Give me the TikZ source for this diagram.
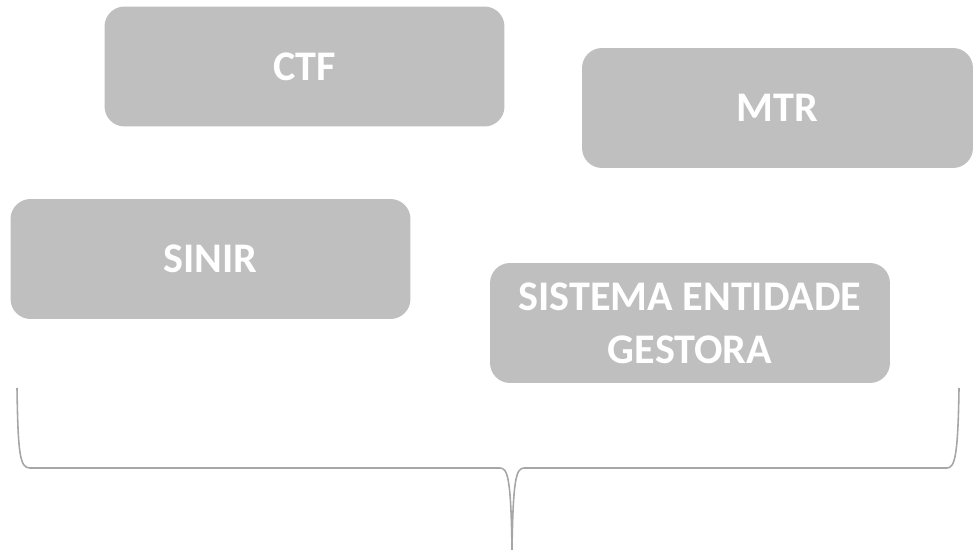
\documentclass[tikz,border=0pt]{standalone}
\usepackage{fontspec}
\setmainfont{Carlito}
\usepackage{tikz}

\definecolor{cinzacaixa}{RGB}{191,191,191}
\definecolor{cinzachave}{RGB}{166,166,166}

\tikzset{
  sistema/.style={rectangle, rounded corners=0.4cm, fill=cinzacaixa,
    minimum width=8cm, minimum height=2.4cm, text=white, align=center,
    font=\fontsize{24}{30}\selectfont\bfseries},
  chave/.style={draw=cinzachave, line width=0.9pt}
}

\begin{document}
\begin{tikzpicture}[x=0.02cm, y=-0.02cm]
\useasboundingbox (0,0) rectangle (973,550);
\node[sistema] (ctf) at (304.5,66.5) {CTF};
\node[sistema, minimum width=7.82cm] (mtr) at (777.5,108) {MTR};
\node[sistema] (sinir) at (210.5,259) {SINIR};
\node[sistema] (seg) at (690,323) {SISTEMA ENTIDADE\\GESTORA};
\coordinate (ponta) at (512,550);
\draw[chave] (17,388) .. controls (18,455) and (20,468) .. (30,468)
  -- (500,468) .. controls (508,468) and (511,480) .. (ponta)
  .. controls (513,480) and (516,468) .. (524,468)
  -- (947,468) .. controls (955,468) and (958,455) .. (959,388);
\end{tikzpicture}
\end{document}
